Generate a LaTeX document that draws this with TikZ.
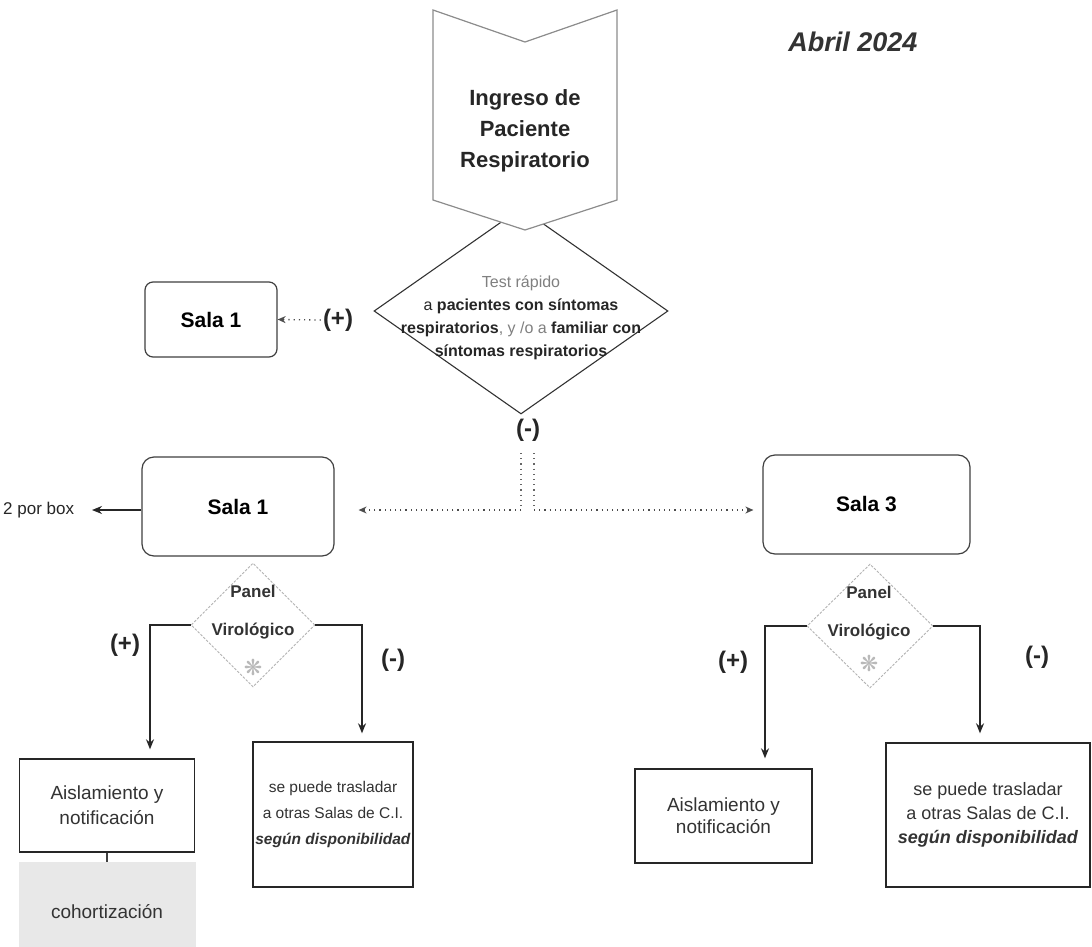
\documentclass[tikz,border=0pt]{standalone}
\usepackage{fontspec}
\setmainfont{Liberation Sans}
\newfontfamily\symfont{DejaVu Sans}
\usetikzlibrary{shapes.geometric,arrows.meta}
\begin{document}
\begin{tikzpicture}[x=1pt,y=-1pt,
  salabox/.style={draw=black!75,line width=1.2pt,rounded corners=#1,inner sep=0pt,
     font=\fontsize{21}{25}\selectfont\bfseries},
  rectbox/.style={draw=black!85,line width=1.4pt,inner sep=0pt,align=center,text=black!80},
  sign/.style={font=\fontsize{24}{28}\selectfont\bfseries,text=black!85,inner sep=2pt},
  panel/.style={draw=gray!60,dash pattern=on 2.5pt off 1.5pt,line width=0.9pt,diamond,inner sep=0pt},
  paneltext/.style={font=\fontsize{17}{38}\selectfont\bfseries,align=center,text=black!80},
  flake/.style={font=\symfont\fontsize{22}{22}\selectfont,text=gray!55},
  solidarrow/.style={line width=1.3pt,draw=black!85,-{Stealth[length=10pt,width=8pt]}},
  dotarrow/.style={line width=1.3pt,draw=black!70,dash pattern=on 1.2pt off 4pt,-{Stealth[length=8pt,width=7pt]}},
  dotline/.style={line width=1.2pt,draw=black!60,dash pattern=on 1.2pt off 4pt}
]
\useasboundingbox (0,0) rectangle (1092,947);
\fill[white] (0,0) rectangle (1092,947);

% test diamond
\node[draw=black!80,line width=1.1pt,diamond,inner sep=0pt,minimum width=294pt,minimum height=206pt] (test) at (521,311) {};
\node[align=center,font=\fontsize{16}{23}\selectfont,text=black!85] (testtxt) at (521,318)
  {{\color{gray}Test rápido}\\
   a \textbf{pacientes con síntomas}\\
   \textbf{respiratorios}{\color{gray}, y /o a} \textbf{familiar con}\\
   \textbf{síntomas respiratorios}};

% banner
\coordinate (ingtop) at (525,42);
\filldraw[fill=white,draw=gray!90,line width=1.2pt]
  (433,10) -- (ingtop) -- (617,10) -- (617,200) -- (525,230) -- (433,200) -- cycle;
\node[align=center,font=\fontsize{22}{31}\selectfont\bfseries,text=black!85] (ingreso) at (525,131)
  {Ingreso de\\Paciente\\Respiratorio};

% date
\node[font=\fontsize{27}{30}\selectfont\bfseries\itshape,text=black!80] (fecha) at (853,42) {Abril 2024};

% top Sala 1 and (+)
\node[salabox=8pt,minimum width=132pt,minimum height=75pt] (salaA) at (211,319.5) {Sala 1};
\node[sign] (plusA) at (338,320) {(+)};
\draw[dotarrow] (plusA.west) -- (salaA.east);

% (-) and branches
\node[sign] (minus) at (528,430) {(-)};
\node[salabox=12pt,minimum width=192pt,minimum height=99pt] (salaB) at (238,506.5) {Sala 1};
\node[salabox=12pt,minimum width=207pt,minimum height=99pt] (salaC) at (866.5,504.5) {Sala 3};
\coordinate (mA) at (521,453);
\coordinate (mB) at (534,453);
\coordinate (jL) at (521,510);
\coordinate (jR) at (534,510);
\draw[dotline] (mA) -- (jL);
\draw[dotline] (mB) -- (jR);
\draw[dotarrow,shorten >=24pt] (jL) -- (jL -| salaB.east);
\draw[dotarrow,shorten >=9pt] (jR) -- (jR -| salaC.west);

% 2 por box
\node[font=\fontsize{17}{20}\selectfont,text=black!85,inner sep=0pt,anchor=west] (porbox) at (3,510) {2 por box};
\draw[solidarrow] (salaB.west |- 0,510) -- (92,510) coordinate (porboxtip);

% left panel
\node[panel,minimum width=124pt,minimum height=124pt] (pvA) at (253,625) {};
\node[paneltext] (pvAtxt) at (253,612) {Panel\\Virológico};
\node[flake] (flA) at (253,667) {❋};
\node[sign] (plusB) at (125,645) {(+)};
\node[sign] (minusB) at (393,660) {(-)};

\node[rectbox,minimum width=175pt,minimum height=93pt,font=\fontsize{19}{25}\selectfont] (aisA) at (107,805.5) {Aislamiento y\\notificación};
\node[rectbox,minimum width=160pt,minimum height=145pt,font=\fontsize{15.5}{26}\selectfont] (seA) at (333,814.5)
  {se puede trasladar\\a otras Salas de C.I.\\\textbf{\textit{según disponibilidad}}};
\node[fill=gray!18,minimum width=177pt,minimum height=90pt,inner sep=0pt,anchor=north] (coh) at (107,862) {};
\node[font=\fontsize{19}{22}\selectfont,text=black!80] (cohtxt) at (107,912) {cohortización};
\draw[line width=1.1pt,black!75] (aisA.south) -- (coh.north);

\draw[solidarrow,shorten >=9pt] (pvA.west) -| ([xshift=43pt]aisA.north);
\draw[solidarrow,shorten >=8pt] (pvA.east) -| ([xshift=29pt]seA.north);

% right panel
\node[panel,minimum width=126pt,minimum height=124pt] (pvC) at (870,626) {};
\node[paneltext] (pvCtxt) at (869,613) {Panel\\Virológico};
\node[flake] (flC) at (869,663) {❋};
\node[sign] (plusC) at (733,662) {(+)};
\node[sign] (minusC) at (1037,657) {(-)};

\node[rectbox,minimum width=177pt,minimum height=94pt,font=\fontsize{19}{22}\selectfont] (aisC) at (723.5,816) {Aislamiento y\\notificación};
\node[rectbox,minimum width=204pt,minimum height=144pt,font=\fontsize{18}{24}\selectfont] (seC) at (988,815)
  {se puede trasladar\\a otras Salas de C.I.\\\textbf{\textit{según disponibilidad}}};

\draw[solidarrow,shorten >=10pt] (pvC.west) -| ([xshift=41.5pt]aisC.north);
\draw[solidarrow,shorten >=9pt] (pvC.east) -| ([xshift=-8pt]seC.north);
\end{tikzpicture}
\end{document}
